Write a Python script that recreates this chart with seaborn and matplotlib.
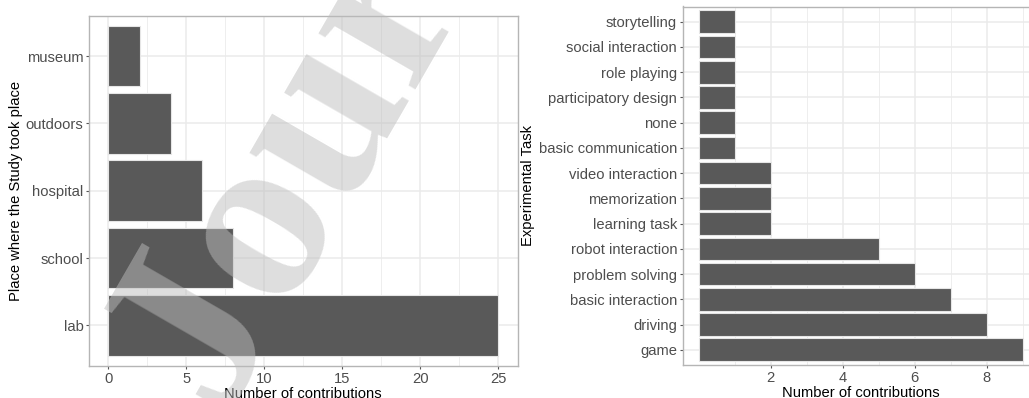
import matplotlib
matplotlib.use("Agg")
import matplotlib.pyplot as plt
from matplotlib.ticker import FixedLocator
import seaborn as sns
import pandas as pd

# Where the studies took place (top to bottom)
places = ["museum", "outdoors", "hospital", "school", "lab"]
place_counts = [2, 4, 6, 8, 25]
place_ticks = [0, 5, 10, 15, 20, 25]
place_minor = [2.5, 7.5, 12.5, 17.5, 22.5]

# Experimental tasks (top to bottom)
tasks = ["storytelling", "social interaction", "role playing",
         "participatory design", "none", "basic communication",
         "video interaction", "memorization", "learning task",
         "robot interaction", "problem solving", "basic interaction",
         "driving", "game"]
task_counts = [1, 1, 1, 1, 1, 1, 2, 2, 2, 5, 6, 7, 8, 9]
task_ticks = [2, 4, 6, 8]
task_minor = [1, 3, 5, 7, 9]

sns.set_theme(style="white")
plt.rcParams["font.family"] = ["Liberation Sans", "DejaVu Sans"]

W, H = 1029, 398
fig = plt.figure(figsize=(W / 100, H / 100), dpi=100)


def px_axes(left, top, right, bottom):
    return fig.add_axes([left / W, 1 - bottom / H,
                         (right - left) / W, (bottom - top) / H])


BAR = "#595959"
GRID = "#EBEBEB"
BORDER = "#B5B5B5"
TICKLAB = "#4D4D4D"
FS = 10.6


def style(ax, xlim, n, major, minor, xlabel, ylabel, ylabelpad):
    ax.set_xlim(*xlim)
    ax.set_ylim(n - 1 + 0.6, -0.6)
    ax.xaxis.set_major_locator(FixedLocator(major))
    ax.xaxis.set_minor_locator(FixedLocator(minor))
    ax.set_axisbelow(True)
    ax.grid(True, which="major", axis="both", color=GRID, lw=1.1)
    ax.grid(True, which="minor", axis="x", color=GRID, lw=0.6)
    for s in ax.spines.values():
        s.set_visible(True)
        s.set_color(BORDER)
        s.set_linewidth(1.0)
    ax.tick_params(axis="both", which="major", length=2.5, width=0.8,
                   color="#555555", labelcolor=TICKLAB, labelsize=FS,
                   direction="out", pad=1.5, bottom=True, left=True)
    ax.tick_params(axis="x", which="major", pad=2)
    ax.tick_params(axis="x", which="minor", length=0)
    ax.set_xlabel(xlabel, fontsize=FS, color="black", labelpad=0.5)
    ax.set_ylabel(ylabel, fontsize=FS, color="black", labelpad=ylabelpad)


ax1 = px_axes(89, 15.7, 517.5, 365.7)
df1 = pd.DataFrame({"place": places, "n": place_counts})
sns.barplot(data=df1, x="n", y="place", order=places, orient="h",
            color=BAR, saturation=1, width=0.9, edgecolor="#E6E6E6",
            linewidth=0.8, ax=ax1)
style(ax1, (-1.25, 26.25), len(places), place_ticks, place_minor,
      "Number of contributions", "Place where the Study took place", 2)

ax2 = px_axes(682.7, 6.5, 1038.8, 365)
df2 = pd.DataFrame({"task": tasks, "n": task_counts})
sns.barplot(data=df2, x="n", y="task", order=tasks, orient="h",
            color=BAR, saturation=1, width=0.9, edgecolor="#E6E6E6",
            linewidth=0.8, ax=ax2)
style(ax2, (-0.45, 9.45), len(tasks), task_ticks, task_minor,
      "Number of contributions", "Experimental Task", 3)

# Semi-transparent diagonal watermark over both panels
fig.text(224 / W, 1 - 422 / H, "Journal Pre-proof", rotation=60,
         rotation_mode="anchor", ha="left", va="baseline", fontsize=175,
         fontweight="bold", family="Liberation Serif", color="#BDBDBD",
         alpha=0.5, zorder=10)

fig.savefig("out.png", dpi=100)
